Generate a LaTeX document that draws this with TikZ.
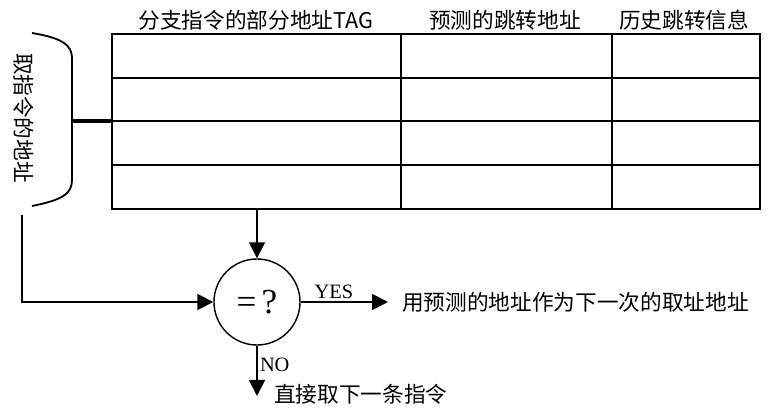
\documentclass[tikz,border=0pt]{standalone}
\usepackage{fontspec}
\setmainfont{Liberation Serif}
\newfontfamily\cjk{Noto Sans CJK SC}
\usetikzlibrary{positioning,arrows.meta,calc}

\begin{document}
\begin{tikzpicture}[x=0.025cm,y=-0.025cm,
	cn/.style={font=\cjk\fontsize{15.4}{18}\selectfont,inner sep=0pt},
	lat/.style={font=\fontsize{14.5}{17}\selectfont,inner sep=1.5pt},
	arr/.style={line width=1.3pt,-{Triangle[length=0.4cm,width=0.4cm]}}]
		\useasboundingbox (0,0) rectangle (776,411);
		%print table
		\coordinate (T1) at (112,34);
		\coordinate (T2) at (760,209);
		\foreach \y in {78,121,165}
			\draw[line width=2.1pt] (112,\y)--(760,\y);
		\foreach \x in {401,612}
			\draw[line width=1.3pt] (\x,34)--(\x,209);
		\draw[line width=2.1pt] (T1) rectangle (T2);
		\coordinate (TL) at (112,121);
		\coordinate (TB) at (257,209);
		%print column titles
		\node[cn] (tag) at (256,20) {分支指令的部分地址TAG};
		\node[cn] (dst) at (505,20) {预测的跳转地址};
		\node[cn] (his) at (684,20) {历史跳转信息};
		%print fetch address
		\node[cn,rotate=-90] (addr) at (24,118) {取指令的地址};
		\draw[line width=1.3pt] (32,33) .. controls (62,38) and (72,45) .. (72,58)
			-- (72,180) .. controls (72,194) and (62,200) .. (32,206);
		\coordinate (B) at (72,121);
		\draw[line width=2.6pt] (B)--(TL);
		\coordinate (S) at (22,215);
		%compare node
		\node[circle,draw,line width=1pt,minimum size=2.15cm,inner sep=0pt,
			font=\fontsize{25}{28}\selectfont] (cmp) at (257,302) {=\hspace{0.15em}?};
		\draw[arr] (TB)--(cmp);
		\draw[arr] (S)|-(cmp);
		%print results
		\node[cn,anchor=west,inner xsep=0.35cm] (pred) at (388,302) {用预测的地址作为下一次的取址地址};
		\draw[arr] (cmp)-- node[lat,above,pos=0.38] {YES} (pred);
		\coordinate (N) at (257,396);
		\draw[arr] (cmp)-- node[lat,right,pos=0.38] {NO} (N);
		\node[cn,anchor=west] (next) at (274,394) {直接取下一条指令};
	\end{tikzpicture}
\end{document}
